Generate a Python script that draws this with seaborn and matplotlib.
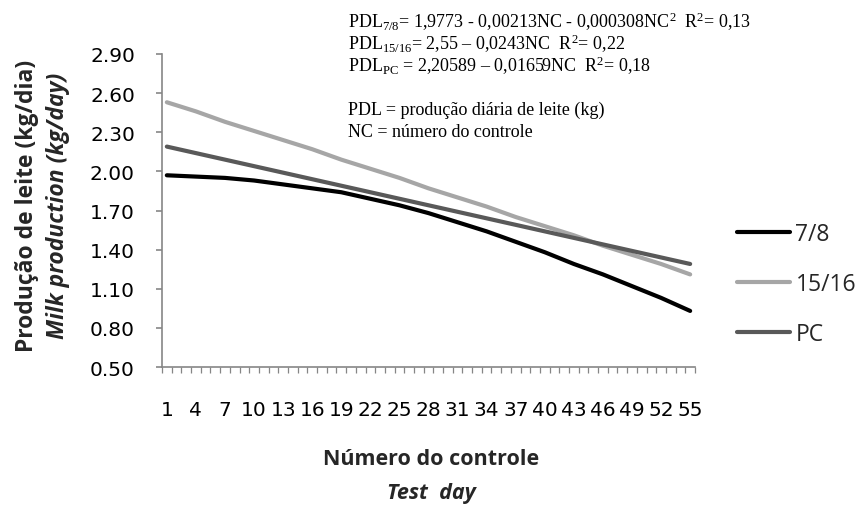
import matplotlib
matplotlib.use("Agg")
import matplotlib.pyplot as plt
import seaborn as sns
import pandas as pd
from matplotlib.transforms import Bbox

# ---- data ----
test_day = [1, 4, 7, 10, 13, 16, 19, 22, 25, 28, 31, 34, 37, 40, 43, 46, 49, 52, 55]
milk_78 = [1.97, 1.96, 1.95, 1.93, 1.90, 1.87, 1.84, 1.79, 1.74, 1.68, 1.61, 1.54,
           1.46, 1.38, 1.29, 1.21, 1.12, 1.03, 0.93]
milk_1516 = [2.53, 2.46, 2.38, 2.31, 2.24, 2.17, 2.09, 2.02, 1.95, 1.87, 1.80, 1.73,
             1.65, 1.58, 1.51, 1.43, 1.36, 1.29, 1.21]
milk_pc = [2.19, 2.14, 2.09, 2.04, 1.99, 1.94, 1.89, 1.84, 1.79, 1.74, 1.69, 1.64,
           1.59, 1.54, 1.49, 1.44, 1.39, 1.34, 1.29]
series_names = ["7/8", "15/16", "PC"]
series_colors = ["#000000", "#A6A6A6", "#595959"]
y_ticks = [0.50, 0.80, 1.10, 1.40, 1.70, 2.00, 2.30, 2.60, 2.90]
x_tick_labels = [str(v) for v in range(1, 56, 3)]

df = pd.DataFrame({
    "day": test_day * 3,
    "milk": milk_78 + milk_1516 + milk_pc,
    "series": [series_names[0]] * len(test_day) + [series_names[1]] * len(test_day)
              + [series_names[2]] * len(test_day),
})

W, H = 860, 506
sns.set_theme(style="white")
plt.rcParams["font.family"] = ["Open Sans", "DejaVu Sans"]
plt.rcParams["mathtext.fontset"] = "custom"
plt.rcParams["mathtext.rm"] = "Liberation Serif"
plt.rcParams["mathtext.it"] = "Liberation Serif:italic"

fig = plt.figure(figsize=(W / 100, H / 100), dpi=100)
ax = fig.add_axes([162 / W, 1 - 368 / H, 533 / W, 313 / H])

sns.lineplot(data=df, x="day", y="milk", hue="series", hue_order=series_names,
             palette=dict(zip(series_names, series_colors)), linewidth=3.0,
             ax=ax, legend=True)

ax.set_xlim(0.5, 55.5)
ax.set_ylim(0.5, 2.9)
ax.set_yticks(y_ticks)
ax.set_yticklabels([f"{v:.2f}" for v in y_ticks])
ax.set_xticks(list(range(1, 56, 3)))
ax.set_xticklabels(x_tick_labels)
ax.set_xticks([i + 0.5 for i in range(0, 56)], minor=True)

gray = "#868686"
for s in ["top", "right"]:
    ax.spines[s].set_visible(False)
for s in ["left", "bottom"]:
    ax.spines[s].set_color(gray)
    ax.spines[s].set_linewidth(1.2)

ax.tick_params(axis="y", which="major", direction="out", length=4.5, width=1.2,
               color=gray, left=True, pad=15, labelsize=14.5, labelcolor="#000000")
ax.tick_params(axis="x", which="major", length=0, pad=24, labelsize=14.5,
               labelcolor="#000000")
ax.tick_params(axis="x", which="minor", direction="out", length=4, width=0.9,
               color=gray, bottom=True)
for lab in ax.get_xticklabels() + ax.get_yticklabels():
    lab.set_fontfamily(["DejaVu Sans"])

ax.set_xlabel("")
ax.set_ylabel("")

# y axis title (two lines)
fig.text(33 / W, 1 - 206 / H, "Produção de leite (kg/dia)", rotation=90,
         rotation_mode="anchor", ha="center", va="baseline", fontsize=16.5,
         fontweight="bold")
fig.text(64 / W, 1 - 206 / H, "Milk production (kg/day)", rotation=90,
         rotation_mode="anchor", ha="center", va="baseline", fontsize=16.5,
         fontweight="bold", fontstyle="italic")

# x axis title
fig.text(431 / W, 1 - 465 / H, "Número do controle", ha="center", va="baseline",
         fontsize=15.5, fontweight="bold")
fig.text(431 / W, 1 - 499 / H, "Test  day", ha="center", va="baseline",
         fontsize=15.5, fontweight="bold", fontstyle="italic")

# legend
handles, labels = ax.get_legend_handles_labels()
leg = ax.legend(handles, labels, loc="center left",
                bbox_to_anchor=(737 / W, 1 - 285 / H), bbox_transform=fig.transFigure,
                frameon=False, fontsize=16.5, handlelength=2.3, handletextpad=0.25,
                labelspacing=1.15, borderpad=0, borderaxespad=0)
for h in leg.get_lines():
    h.set_linewidth(3.0)

# equations
eq_font = dict(family="Liberation Serif", fontsize=13, ha="left", va="baseline",
               color="#000000")
eq_lines = [
    (28, r"PDL$_{7/8}$= 1,9773 - 0,00213NC - 0,000308NC$^{2}$  R$^{2}$= 0,13"),
    (50, r"PDL$_{15/16}$= 2,55 – 0,0243NC  R$^{2}$= 0,22"),
    (72, r"PDL$_{\mathrm{PC}}$ = 2,20589 – 0,01659NC  R$^{2}$= 0,18"),
    (115, "PDL = produção diária de leite (kg)"),
    (137, "NC = número do controle"),
]
clip = Bbox.from_extents(0, H - 141, W, H)
for yb, txt in eq_lines:
    t = fig.text(348 / W, 1 - yb / H, txt, **eq_font)
    t.set_clip_box(clip)
    t.set_clip_on(True)

fig.savefig("out.png", dpi=100)
